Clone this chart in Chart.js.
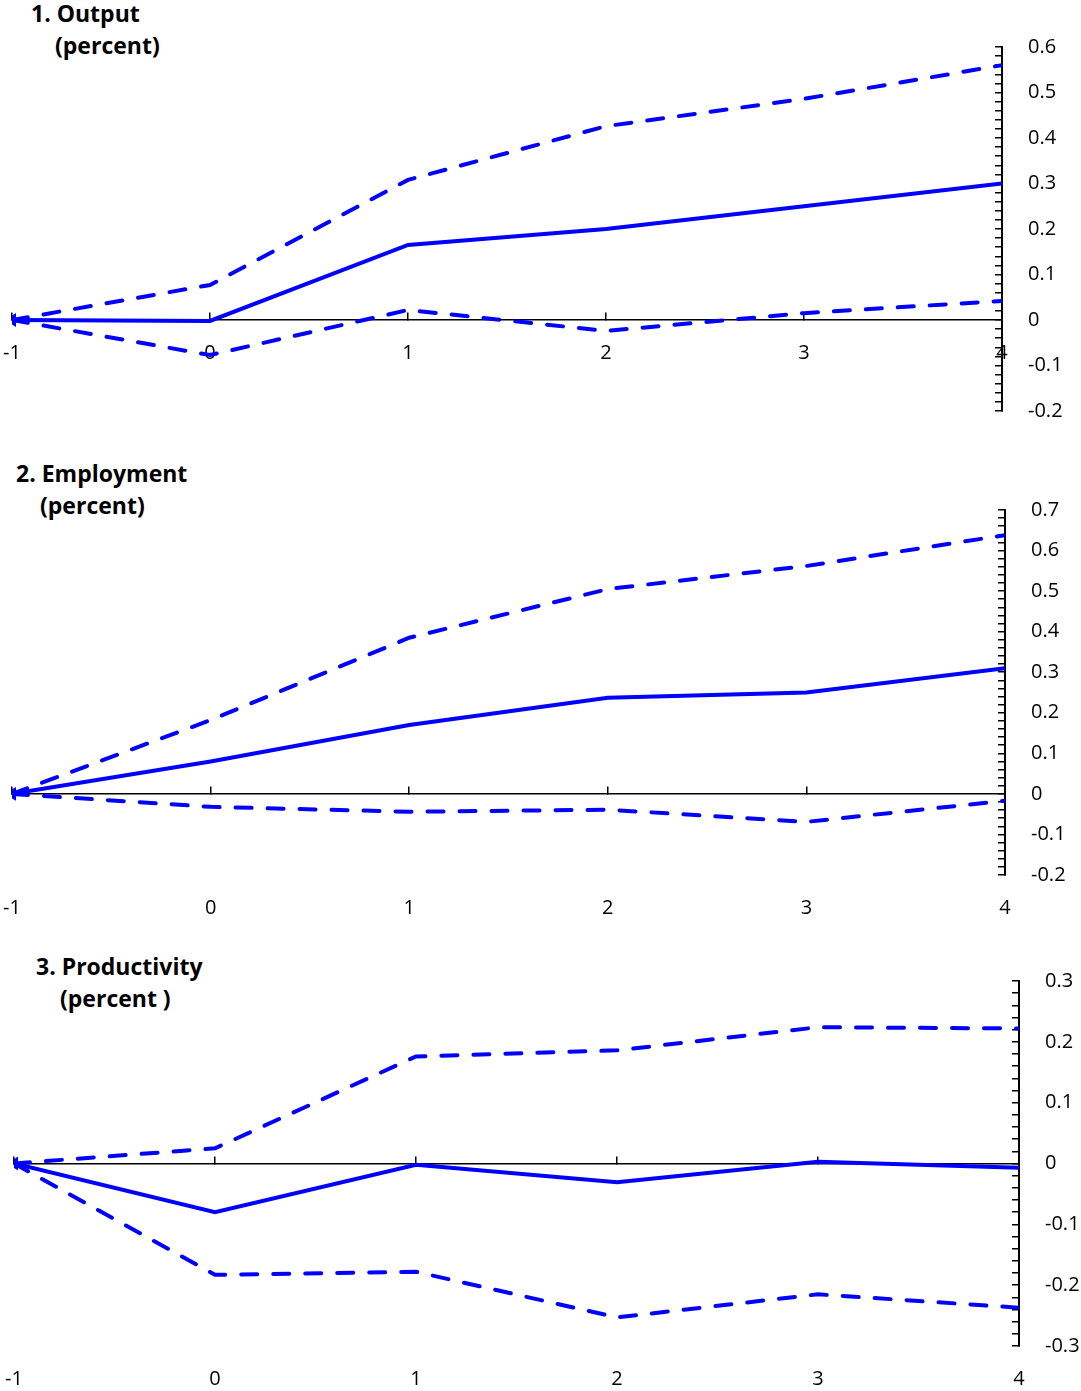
<!DOCTYPE html>
<html>
<head>
<meta charset="utf-8">
<script src="https://cdn.jsdelivr.net/npm/chart.js@4.4.0/dist/chart.umd.min.js"></script>
<style>
  body { margin: 0; background: #fff; width: 1081px; height: 1391px; position: relative; overflow: hidden; }
  .panel { position: absolute; left: 0; width: 1081px; }
  .title { position: absolute; font-family: "Open Sans", sans-serif; font-weight: bold; font-size: 23px; color: #000; line-height: 1; }
</style>
</head>
<body>
<div class="title" style="left:31px; top:2px;">1. Output</div>
<div class="title" style="left:55px; top:34px;">(percent)</div>
<div class="title" style="left:16px; top:462px;">2. Employment</div>
<div class="title" style="left:40px; top:494px;">(percent)</div>
<div class="title" style="left:36px; top:955px;">3. Productivity</div>
<div class="title" style="left:60px; top:987px;">(percent )</div>

<div class="panel" style="top:0; height:440px;"><canvas id="outputChart"></canvas></div>
<div class="panel" style="top:450px; height:480px;"><canvas id="employmentChart"></canvas></div>
<div class="panel" style="top:940px; height:451px;"><canvas id="productivityChart"></canvas></div>

<script>
// Horizon: quarters relative to the shock
const horizon = [-1, 0, 1, 2, 3, 4];

// Output response and band
const outputMid   = [0, -0.002, 0.165, 0.20, 0.25, 0.30];
const outputUpper = [0, 0.077, 0.308, 0.426, 0.486, 0.56];
const outputLower = [0, -0.077, 0.022, -0.024, 0.015, 0.042];

// Employment response and band
const employmentMid   = [0, 0.08, 0.17, 0.237, 0.25, 0.31];
const employmentUpper = [0, 0.182, 0.385, 0.505, 0.562, 0.638];
const employmentLower = [0, -0.032, -0.044, -0.039, -0.069, -0.017];

// Productivity response and band
const productivityMid   = [0, -0.08, -0.002, -0.031, 0.003, -0.007];
const productivityUpper = [0, 0.025, 0.176, 0.186, 0.224, 0.222];
const productivityLower = [0, -0.183, -0.178, -0.253, -0.215, -0.237];

const blue = '#0000ff';
const tickFont = { family: 'Open Sans', size: 20 };

function toPoints(values) {
    return horizon.map((h, i) => ({ x: h, y: values[i] }));
}

function buildChart(id, mid, upper, lower, cfg) {
    const ctx = document.getElementById(id).getContext('2d');
    const dashed = {
        borderColor: blue,
        borderWidth: 4,
        borderDash: [16, 16],
        borderCapStyle: 'round',
        pointRadius: 0,
        fill: false,
        tension: 0
    };
    return new Chart(ctx, {
        type: 'line',
        data: {
            datasets: [
                Object.assign({ label: 'Upper', data: toPoints(upper) }, dashed),
                Object.assign({ label: 'Lower', data: toPoints(lower) }, dashed),
                {
                    label: 'Estimate',
                    data: toPoints(mid),
                    borderColor: blue,
                    backgroundColor: blue,
                    borderWidth: 4,
                    fill: false,
                    tension: 0,
                    pointStyle: 'triangle',
                    pointRotation: -90,
                    pointRadius: [8, 0, 0, 0, 0, 0],
                    pointBorderWidth: 0
                }
            ]
        },
        options: {
            responsive: true,
            maintainAspectRatio: false,
            animation: false,
            layout: {
                padding: { left: cfg.left, top: cfg.top, bottom: cfg.bottom, right: 0 }
            },
            scales: {
                x: {
                    type: 'linear',
                    position: { y: 0 },
                    min: -1,
                    max: 4,
                    afterFit: function(scale) {
                        scale.paddingLeft = 0;
                        scale.paddingRight = 0;
                    },
                    border: { display: true, color: '#000', width: 1.5 },
                    grid: {
                        drawOnChartArea: false,
                        drawTicks: true,
                        tickLength: -8,
                        color: '#000',
                        lineWidth: 1.5
                    },
                    ticks: {
                        stepSize: 1,
                        color: '#000',
                        font: tickFont,
                        padding: cfg.xLabelGap,
                        maxRotation: 0,
                        autoSkip: false
                    }
                },
                y: {
                    position: 'right',
                    min: cfg.yMin,
                    max: cfg.yMax,
                    afterFit: function(scale) {
                        scale.width = cfg.axisWidth;
                        scale.paddingTop = 0;
                        scale.paddingBottom = 0;
                    },
                    border: { display: true, color: '#000', width: 2 },
                    grid: {
                        drawOnChartArea: false,
                        drawTicks: true,
                        tickLength: -7,
                        color: '#000',
                        lineWidth: 1.5
                    },
                    ticks: {
                        stepSize: 0.02,
                        color: '#000',
                        font: tickFont,
                        padding: 33,
                        autoSkip: false,
                        callback: function(value) {
                            const t = value * 10;
                            if (Math.abs(t - Math.round(t)) > 1e-6) return '';
                            const v = Math.round(t) / 10;
                            return v === 0 ? '0' : String(v);
                        }
                    }
                }
            },
            plugins: {
                legend: { display: false },
                tooltip: { enabled: false }
            }
        }
    });
}

buildChart('outputChart', outputMid, outputUpper, outputLower, {
    yMin: -0.2, yMax: 0.6, left: 12, top: 47, bottom: 29, axisWidth: 79, xLabelGap: 29
});
buildChart('employmentChart', employmentMid, employmentUpper, employmentLower, {
    yMin: -0.2, yMax: 0.7, left: 12, top: 60, bottom: 55, axisWidth: 76, xLabelGap: 110
});
buildChart('productivityChart', productivityMid, productivityUpper, productivityLower, {
    yMin: -0.3, yMax: 0.3, left: 14, top: 41, bottom: 45, axisWidth: 62, xLabelGap: 212
});
</script>
</body>
</html>
